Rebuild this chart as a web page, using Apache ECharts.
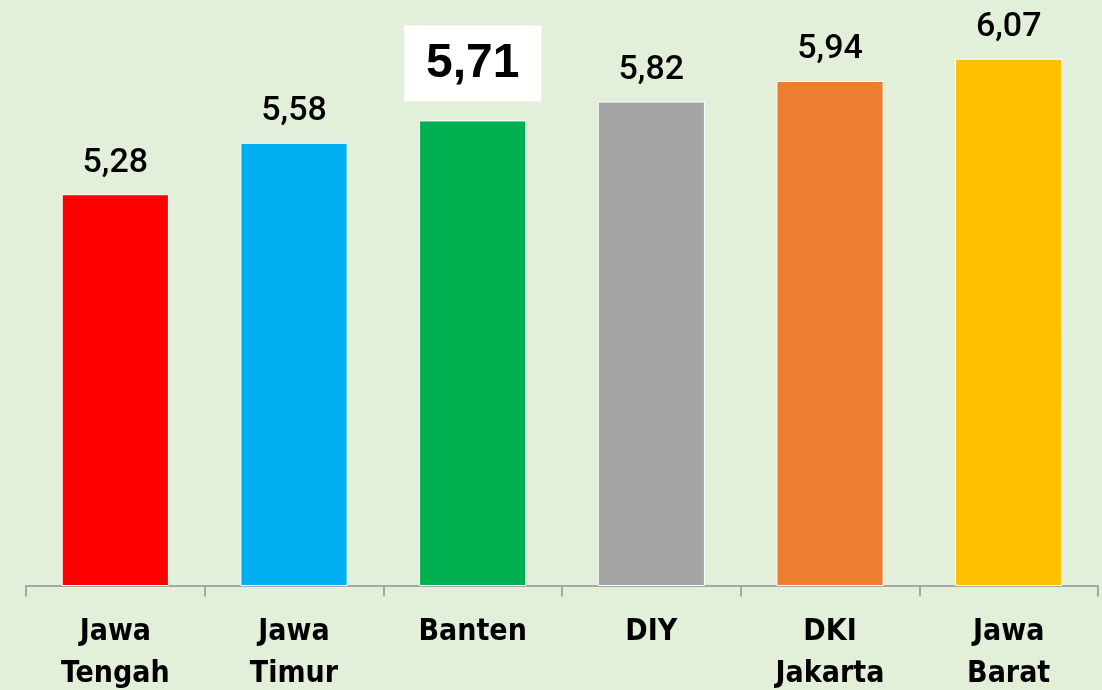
<!DOCTYPE html>
<html>
<head>
<meta charset="utf-8">
<script src="https://cdn.jsdelivr.net/npm/echarts@6/dist/echarts.min.js"></script>
<style>
  html, body { margin: 0; padding: 0; background: #E2EFD9; }
  #chart { width: 1102px; height: 690px; }
</style>
</head>
<body>
<div id="chart"></div>
<script>
// provinces and their values
const categories = ['Jawa\nTengah', 'Jawa\nTimur', 'Banten', 'DIY', 'DKI\nJakarta', 'Jawa\nBarat'];
const values = [5.28, 5.58, 5.71, 5.82, 5.94, 6.07];
const barColors = ['#FF0000', '#00B0F0', '#00B050', '#A5A5A5', '#ED7D31', '#FFC000'];
const highlightIndex = 2; // Banten gets the boxed label

const chart = echarts.init(document.getElementById('chart'));

const labelFont = "Roboto, 'Liberation Sans', sans-serif";
const axisFont = "'DejaVu Sans Condensed', sans-serif";

const barData = values.map((v, i) => {
    const item = {
        value: v,
        itemStyle: { color: barColors[i] }
    };
    if (i === highlightIndex) {
        item.label = {
            fontFamily: "'Liberation Sans', Arial, sans-serif",
            fontSize: 48,
            fontWeight: 'bold',
            backgroundColor: '#FFFFFF',
            padding: [14, 22, 14, 22],
            distance: 19
        };
    }
    return item;
});

const option = {
    backgroundColor: '#E2EFD9',
    animation: false,
    grid: {
        left: 26,
        right: 4,
        top: 2,
        bottom: 104.5,
        containLabel: false,
        outerBoundsMode: 'none'
    },
    xAxis: {
        type: 'category',
        data: categories,
        axisLine: { lineStyle: { color: '#A6A6A6', width: 2 } },
        axisTick: { show: true, length: 11, lineStyle: { color: '#A6A6A6', width: 2 } },
        axisLabel: {
            color: '#000000',
            fontFamily: axisFont,
            fontWeight: 'bold',
            fontSize: 30,
            lineHeight: 42,
            margin: 26
        }
    },
    yAxis: {
        type: 'value',
        min: 3,
        max: 6.4,
        show: false,
        splitLine: { show: false }
    },
    series: [
        {
            type: 'bar',
            data: barData,
            barCategoryGap: '40%',
            itemStyle: { borderColor: '#FFFFFF', borderWidth: 1 },
            label: {
                show: true,
                position: 'top',
                distance: 14,
                color: '#000000',
                fontFamily: labelFont,
                fontWeight: 500,
                fontSize: 34,
                formatter: p => p.value.toFixed(2).replace('.', ',')
            }
        }
    ]
};

chart.setOption(option);
</script>
</body>
</html>
